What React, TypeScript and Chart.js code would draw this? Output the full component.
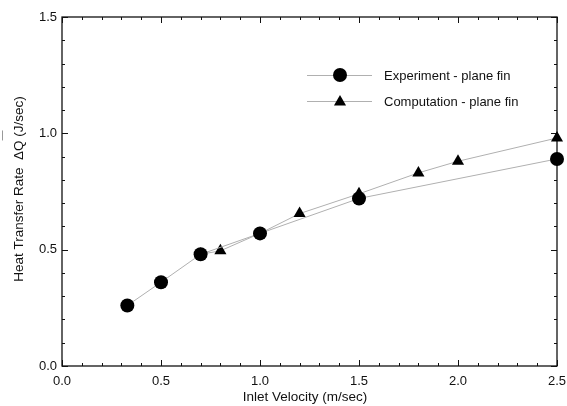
import React, { useEffect, useRef } from 'react';
import { Chart, registerables } from 'chart.js';

Chart.register(...registerables);

const expX = [0.33, 0.5, 0.7, 1.0, 1.5, 2.5];
const expY = [0.26, 0.36, 0.48, 0.57, 0.72, 0.89];
const compX = [0.7, 0.8, 1.0, 1.2, 1.5, 1.8, 2.0, 2.5];
const compY = [0.48, 0.495, 0.57, 0.655, 0.74, 0.83, 0.88, 0.98];
const xTickValues = [0, 0.5, 1.0, 1.5, 2.0, 2.5];
const yTickValues = [0, 0.5, 1.0, 1.5];
const seriesNames = ['Experiment - plane fin', 'Computation - plane fin'];
const xTitle = 'Inlet Velocity (m/sec)';
const yTitlePrefix = 'Heat Transfer Rate  Δ';
const yTitleQ = 'Q';
const yTitleSuffix = ' (J/sec)';

const FONT = "'Liberation Sans', Arial, Helvetica, sans-serif";
const LINE = '#b0b0b0';

function drawMarker(ctx: CanvasRenderingContext2D, style: string, x: number, y: number, r: number) {
  ctx.save();
  ctx.fillStyle = '#000';
  ctx.beginPath();
  if (style === 'circle') {
    ctx.arc(x, y, r, 0, Math.PI * 2);
  } else {
    let rad = 0;
    ctx.moveTo(x + Math.sin(rad) * r, y - Math.cos(rad) * r);
    rad += (Math.PI * 2) / 3;
    ctx.lineTo(x + Math.sin(rad) * r, y - Math.cos(rad) * r);
    rad += (Math.PI * 2) / 3;
    ctx.lineTo(x + Math.sin(rad) * r, y - Math.cos(rad) * r);
    ctx.closePath();
  }
  ctx.fill();
  ctx.restore();
}

const framePlugin = {
  id: 'frameTicks',
  beforeDatasetsDraw(chart: any) {
    const { ctx, chartArea: a, scales } = chart;
    const xs = scales.x;
    const ys = scales.y;
    ctx.save();
    ctx.strokeStyle = '#111';
    ctx.lineWidth = 1.3;
    ctx.strokeRect(a.left, a.top, a.right - a.left, a.bottom - a.top);
    ctx.lineWidth = 1;
    ctx.beginPath();
    for (let i = 0; i <= 25; i++) {
      const v = i / 10;
      const px = Math.round(xs.getPixelForValue(v)) + 0.5;
      const len = i % 5 === 0 ? 6 : 3;
      ctx.moveTo(px, a.bottom);
      ctx.lineTo(px, a.bottom - len);
      ctx.moveTo(px, a.top);
      ctx.lineTo(px, a.top + len);
    }
    for (let i = 0; i <= 15; i++) {
      const v = i / 10;
      const py = Math.round(ys.getPixelForValue(v)) + 0.5;
      const len = i % 5 === 0 ? 6 : 3;
      ctx.moveTo(a.left, py);
      ctx.lineTo(a.left + len, py);
      ctx.moveTo(a.right, py);
      ctx.lineTo(a.right - len, py);
    }
    ctx.stroke();
    ctx.restore();
  },
  afterDraw(chart: any) {
    const { ctx, chartArea: a } = chart;
    ctx.save();
    // x title
    ctx.fillStyle = '#111';
    ctx.font = `13.5px ${FONT}`;
    ctx.textAlign = 'center';
    ctx.textBaseline = 'middle';
    ctx.fillText(xTitle, 305, 397);
    // y title
    const full = yTitlePrefix + yTitleQ + yTitleSuffix;
    const wFull = ctx.measureText(full).width;
    const wPre = ctx.measureText(yTitlePrefix).width;
    const wQ = ctx.measureText(yTitleQ).width;
    ctx.translate(19, 189);
    ctx.rotate(-Math.PI / 2);
    ctx.textAlign = 'left';
    ctx.fillText(full, -wFull / 2, 0);
    ctx.strokeStyle = '#999';
    ctx.lineWidth = 1;
    ctx.beginPath();
    ctx.moveTo(-wFull / 2 + wPre + wQ, -16.5);
    ctx.lineTo(-wFull / 2 + wPre + wQ + 10, -16.5);
    ctx.stroke();
    ctx.restore();

    // legend
    ctx.save();
    const rows = [
      { y: 75, style: 'circle', name: seriesNames[0] },
      { y: 101, style: 'triangle', name: seriesNames[1] },
    ];
    rows.forEach((row) => {
      ctx.strokeStyle = LINE;
      ctx.lineWidth = 1;
      ctx.beginPath();
      ctx.moveTo(307, row.y + 0.5);
      ctx.lineTo(372, row.y + 0.5);
      ctx.stroke();
      drawMarker(ctx, row.style, 340, row.y + (row.style === 'triangle' ? 1 : 0), 7);
      ctx.fillStyle = '#111';
      ctx.font = `13px ${FONT}`;
      ctx.textAlign = 'left';
      ctx.textBaseline = 'middle';
      ctx.fillText(row.name, 384, row.y + 1);
    });
    ctx.restore();
  },
};

export default function App() {
  const ref = useRef<HTMLCanvasElement | null>(null);
  useEffect(() => {
    document.body.style.margin = '0';
    const canvas = ref.current;
    if (!canvas) return;
    const chart = new Chart(canvas, {
      type: 'scatter',
      data: {
        datasets: [
          {
            label: seriesNames[0],
            data: expX.map((x, i) => ({ x, y: expY[i] })),
            showLine: true,
            borderColor: LINE,
            borderWidth: 1,
            pointStyle: 'circle',
            pointRadius: 7,
            pointBackgroundColor: '#000',
            pointBorderWidth: 0,
            clip: false,
          } as any,
          {
            label: seriesNames[1],
            data: compX.map((x, i) => ({ x, y: compY[i] })),
            showLine: true,
            borderColor: LINE,
            borderWidth: 1,
            pointStyle: 'triangle',
            pointRadius: 7,
            pointBackgroundColor: '#000',
            pointBorderWidth: 0,
            clip: false,
          } as any,
        ],
      },
      options: {
        animation: false,
        responsive: false,
        events: [],
        layout: { padding: { top: 17, right: 10, left: 0, bottom: 0 } },
        plugins: { legend: { display: false }, tooltip: { enabled: false } },
        scales: {
          x: {
            type: 'linear',
            min: 0,
            max: 2.5,
            afterFit: (s: any) => {
              s.height = 40;
              s.paddingLeft = 0;
              s.paddingRight = 0;
            },
            afterBuildTicks: (s: any) => { s.ticks = xTickValues.map((v) => ({ value: v })); },
            grid: { display: false, drawTicks: false },
            border: { display: false },
            ticks: {
              padding: 8,
              color: '#111',
              font: { family: FONT, size: 13 },
              maxRotation: 0,
              autoSkip: false,
              callback: (v: any) => Number(v).toFixed(1),
            },
          },
          y: {
            type: 'linear',
            min: 0,
            max: 1.5,
            afterFit: (s: any) => {
              s.width = 62;
              s.paddingTop = 0;
              s.paddingBottom = 0;
            },
            afterBuildTicks: (s: any) => { s.ticks = yTickValues.map((v) => ({ value: v })); },
            grid: { display: false, drawTicks: false },
            border: { display: false },
            ticks: {
              padding: 5,
              color: '#111',
              font: { family: FONT, size: 13 },
              autoSkip: false,
              callback: (v: any) => Number(v).toFixed(1),
            },
          },
        },
      },
      plugins: [framePlugin],
    });
    return () => chart.destroy();
  }, []);
  return (
    <div style={{ width: 567, height: 406 }}>
      <canvas ref={ref} width={567} height={406} />
    </div>
  );
}
